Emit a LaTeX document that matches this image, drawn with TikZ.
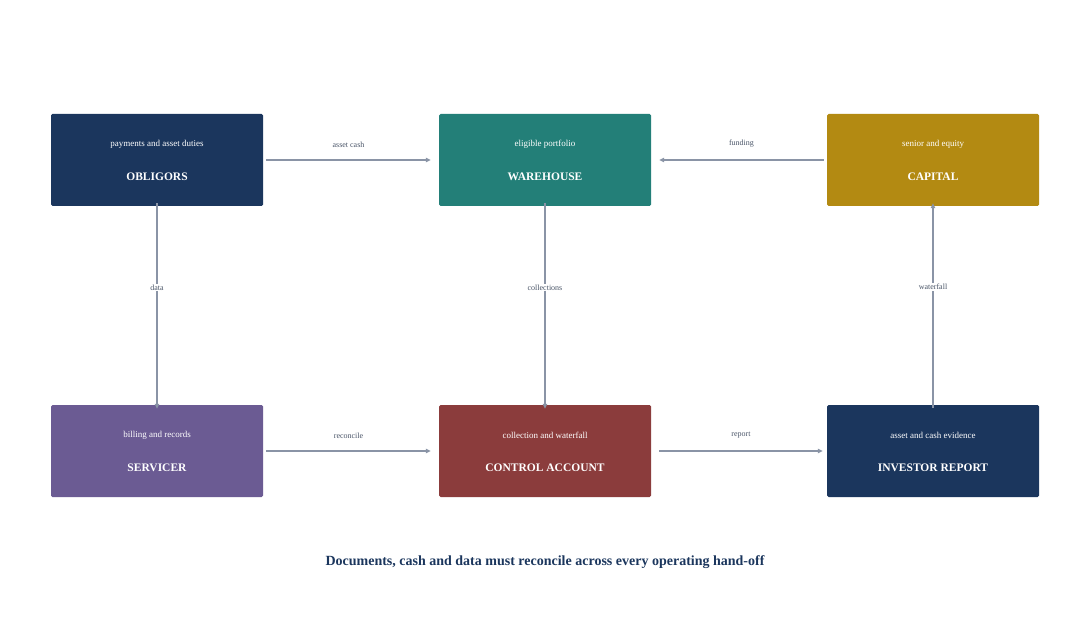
\documentclass[tikz,border=0pt]{standalone}
\usepackage{fontspec}
\setmainfont{Liberation Serif}
\usetikzlibrary{arrows.meta}
\definecolor{navy}{HTML}{1B365D}
\definecolor{teal}{HTML}{237F78}
\definecolor{gold}{HTML}{B38A12}
\definecolor{purp}{HTML}{6B5B93}
\definecolor{rust}{HTML}{8B3C3C}
\definecolor{arr}{HTML}{8A94A6}
\definecolor{lab}{HTML}{4A5568}
\begin{document}
\begin{tikzpicture}[x=1pt,y=-1pt,
  box/.style={minimum width=212pt,minimum height=92pt,rounded corners=1.5pt,inner sep=0pt,text=white,align=center},
  ttl/.style={font=\fontsize{11.5}{13}\selectfont\bfseries,text=white},
  sub/.style={font=\fontsize{9}{11}\selectfont,text=white},
  conn/.style={draw=arr,line width=1.1pt,-{Triangle[length=5pt,width=4.5pt]}},
  lbl/.style={font=\fontsize{8}{10}\selectfont,text=lab},
  vlbl/.style={lbl,fill=white,inner sep=1pt}]
\useasboundingbox (0,0) rectangle (1089,620);
\node[box,fill=navy] (ob) at (157,160) {};
\node[box,fill=teal] (wh) at (545,160) {};
\node[box,fill=gold] (ca) at (933,160) {};
\node[box,fill=purp] (se) at (157,451) {};
\node[box,fill=rust] (co) at (545,451) {};
\node[box,fill=navy] (ir) at (933,451) {};
\foreach \n/\t/\s in {ob/OBLIGORS/payments and asset duties, wh/WAREHOUSE/eligible portfolio, ca/CAPITAL/senior and equity, se/SERVICER/billing and records, co/CONTROL ACCOUNT/collection and waterfall, ir/INVESTOR REPORT/asset and cash evidence}{
  \node[ttl] (\n t) at ([yshift=-17pt]\n.center) {\t};
  \node[sub] (\n s) at ([yshift=16pt]\n.center) {\s};
}
\draw[conn] ([xshift=3pt]ob.east) -- node[lbl,above=9pt]{asset cash} ([xshift=-8pt]wh.west);
\draw[conn] ([xshift=-3pt]ca.west) -- node[lbl,above=9pt]{funding} ([xshift=8pt]wh.east);
\draw[conn] ([xshift=3pt]se.east) -- node[lbl,above=9pt]{reconcile} ([xshift=-8pt]co.west);
\draw[conn] ([xshift=8pt]co.east) -- node[lbl,above=9pt]{report} ([xshift=-4pt]ir.west);
\draw[conn] ([yshift=3pt]ob.south) -- node[vlbl,pos=0.41]{data} ([yshift=-4pt]se.north);
\draw[conn] ([yshift=3pt]wh.south) -- node[vlbl,pos=0.41]{collections} ([yshift=-4pt]co.north);
\draw[conn] ([yshift=-3pt]ir.north) -- node[vlbl,pos=0.59]{waterfall} ([yshift=3pt]ca.south);
\node[font=\fontsize{14}{16}\selectfont\bfseries,text=navy] (cap) at (545,562) {Documents, cash and data must reconcile across every operating hand-off};
\end{tikzpicture}
\end{document}
